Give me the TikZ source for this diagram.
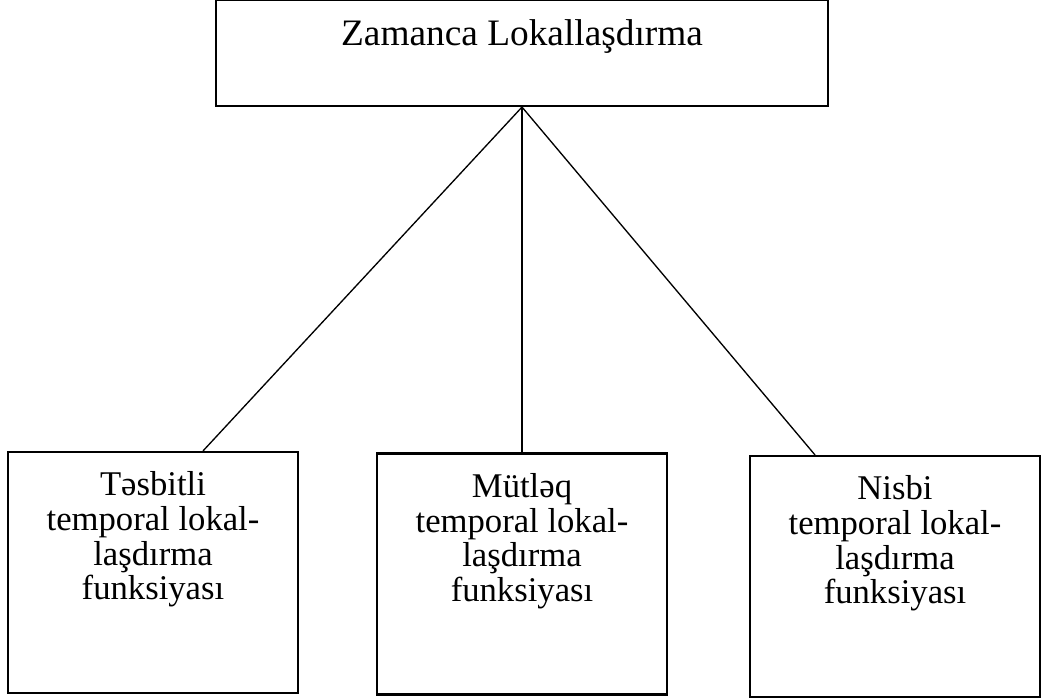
\documentclass[tikz,border=0pt]{standalone}
\usepackage{fontspec}
\setmainfont{Liberation Serif}
\tikzset{every picture/.style={line width=1pt}}
\begin{document}
\begin{tikzpicture}[x=0.75pt,y=0.75pt,yscale=-1,
	box/.style={draw, line width=1.6pt, rectangle, align=center, inner sep=0pt},
	subbox/.style={box, minimum width=217.5pt, minimum height=180.75pt, text depth=55pt, font=\fontsize{26}{26}\selectfont}]
	\useasboundingbox (0,0) rectangle (1046,699);

	%Shape: Rectangle [id:zaman]
	\node [box, minimum width=459pt, minimum height=79.5pt, text depth=31pt, font=\fontsize{28}{30}\selectfont] (zaman) at (522,53) {Zamanca Lokallaşdırma};
	%Shape: Rectangle [id:tesbit]
	\node [subbox] (tesbit) at (153,572.5) {Təsbitli\\temporal lokal-\\laşdırma\\funksiyası};
	%Shape: Rectangle [id:mutleq]
	\node [subbox] (mutleq) at (522,574) {Mütləq\\temporal lokal-\\laşdırma\\funksiyası};
	%Shape: Rectangle [id:nisbi]
	\node [subbox] (nisbi) at (895,576.5) {Nisbi\\temporal lokal-\\laşdırma\\funksiyası};

	%Straight Lines
	\draw (zaman.south) -- ([xshift=37.5pt]tesbit.north) ;
	%Straight Lines
	\draw (zaman.south) -- (mutleq.north) ;
	%Straight Lines
	\draw (zaman.south) -- ([xshift=-60pt]nisbi.north) ;

\end{tikzpicture}
\end{document}
